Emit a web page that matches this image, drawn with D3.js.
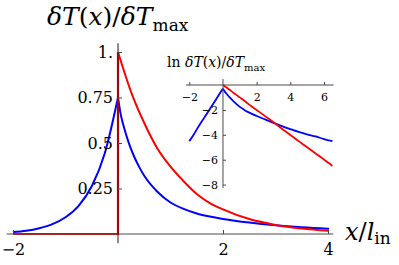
<!DOCTYPE html>
<html>
<head>
<meta charset="utf-8">
<script src="https://cdn.jsdelivr.net/npm/d3@7"></script>
<style>
  html, body { margin: 0; padding: 0; background: #fff; }
  svg { display: block; }
</style>
</head>
<body>
<svg id="chart" width="399" height="265"></svg>
<script>
// ---- data ----
const mainXTicks = [-2, 2, 4];
const mainYTicks = [0.25, 0.5, 0.75, 1];
const mainYTickLabels = ["0.25", "0.5", "0.75", "1."];
const insetXTicks = [-2, 2, 4, 6];
const insetYTicks = [-2, -4, -6, -8];

// blue curve (left of the cusp and right of it)
const blueLeftX = [-2, -1.75, -1.5, -1.25, -1, -0.75, -0.5, -0.25, 0];
const blueLeftY = [0.011, 0.018, 0.032, 0.054, 0.092, 0.155, 0.262, 0.445, 0.75];
const blueRightX = [0, 0.05, 0.1, 0.2, 0.3, 0.4, 0.5, 0.75, 1, 1.25, 1.5, 1.75, 2, 2.5, 3, 3.5, 4, 4.5, 5, 5.5, 6, 6.5];
const blueRightY = [0.75, 0.66, 0.6, 0.505, 0.43, 0.37, 0.32, 0.232, 0.173, 0.138, 0.113, 0.096, 0.083, 0.063, 0.048, 0.037, 0.029, 0.023, 0.019, 0.016, 0.013, 0.011];

// red curve: zero for x<0, jump to 1 at x=0, then decays
const redLeftX = [-2, 0, 0];
const redLeftY = [0, 0, 1];
const redRightX = [0, 0.25, 0.5, 0.75, 1, 1.25, 1.5, 1.75, 2, 2.5, 3, 3.5, 4, 4.5, 5, 5.5, 6, 6.5];
const redRightY = [1, 0.78, 0.61, 0.47, 0.37, 0.29, 0.22, 0.17, 0.135, 0.082, 0.05, 0.03, 0.018, 0.011, 0.0067, 0.0041, 0.0025, 0.0015];

const BLUE = "#0000ff", RED = "#ff0000", AXIS = "#4a4a4a";
const SERIF = "DejaVu Serif";

const svg = d3.select("#chart");
const zip = (xs, ys) => xs.map((x, i) => ({x, y: ys[i]}));

// ---------------- main plot ----------------
const x = d3.scaleLinear().domain([-2, 4]).range([13, 328]);
const y = d3.scaleLinear().domain([0, 1]).range([234, 52]);

const main = svg.append("g");
main.append("clipPath").attr("id", "mainclip").append("rect")
  .attr("x", x(-2.12)).attr("y", y(1.05)).attr("width", x(4.02) - x(-2.12)).attr("height", y(-0.05) - y(1.05));

const lineMain = d3.line().x(d => x(d.x)).y(d => y(d.y));
const curves = main.append("g").attr("clip-path", "url(#mainclip)");
curves.append("path").datum(zip(blueLeftX, blueLeftY))
  .attr("d", lineMain.curve(d3.curveMonotoneX)).attr("fill", "none").attr("stroke", BLUE).attr("stroke-width", 2);
curves.append("path").datum(zip(blueRightX, blueRightY))
  .attr("d", lineMain.curve(d3.curveMonotoneX)).attr("fill", "none").attr("stroke", BLUE).attr("stroke-width", 2);
curves.append("path").datum(zip(redLeftX, redLeftY))
  .attr("d", lineMain.curve(d3.curveLinear)).attr("fill", "none").attr("stroke", RED).attr("stroke-width", 2.2);
curves.append("path").datum(zip(redRightX, redRightY))
  .attr("d", lineMain.curve(d3.curveMonotoneX)).attr("fill", "none").attr("stroke", RED).attr("stroke-width", 2);

// axes
main.append("line").attr("x1", x(-2.12)).attr("x2", x(4.1)).attr("y1", y(0)).attr("y2", y(0))
  .attr("stroke", AXIS).attr("stroke-width", 1);
main.append("line").attr("x1", x(0)).attr("x2", x(0)).attr("y1", y(-0.05)).attr("y2", y(1.048))
  .attr("stroke", "#3a1010").attr("stroke-width", 1);

const xAxis = main.append("g").attr("transform", `translate(0,${y(0)})`)
  .call(d3.axisBottom(x).tickValues(mainXTicks).tickSize(-4).tickPadding(10)
    .tickFormat(d => d < 0 ? "\u2212" + Math.abs(d) : String(d)));
xAxis.attr("font-family", SERIF);
xAxis.select(".domain").remove();
xAxis.selectAll("line").attr("stroke", AXIS);
xAxis.selectAll("text").attr("font-size", 16);

const yAxis = main.append("g").attr("transform", `translate(${x(0)},0)`)
  .call(d3.axisLeft(y).tickValues(mainYTicks).tickSize(-4).tickPadding(5)
    .tickFormat((d, i) => mainYTickLabels[i]));
yAxis.attr("font-family", SERIF);
yAxis.select(".domain").remove();
yAxis.selectAll("line").attr("stroke", AXIS);
yAxis.selectAll("text").attr("font-size", 16);

// main title
const title = svg.append("text").attr("x", 47).attr("y", 25).attr("font-size", 25).attr("font-family", SERIF);
title.append("tspan").attr("font-style", "italic").text("\u03b4T");
title.append("tspan").text("(");
title.append("tspan").attr("font-style", "italic").text("x");
title.append("tspan").text(")/");
title.append("tspan").attr("font-style", "italic").text("\u03b4T");
title.append("tspan").attr("font-size", 17).attr("dy", 6).text("max");

// x label
const xl = svg.append("text").attr("x", 345).attr("y", 240).attr("font-size", 24).attr("font-family", SERIF);
xl.append("tspan").attr("font-style", "italic").text("x");
xl.append("tspan").text("/");
xl.append("tspan").attr("font-style", "italic").text("l");
xl.append("tspan").attr("font-size", 17).attr("dy", 4).text("in");

// ---------------- inset ----------------
const xi = d3.scaleLinear().domain([-2, 6]).range([189.3, 324]);
const yi = d3.scaleLinear().domain([0, -8]).range([85, 184.6]);
const inset = svg.append("g");
inset.append("clipPath").attr("id", "insetclip").append("rect")
  .attr("x", xi(-2.25)).attr("y", yi(0.5)).attr("width", xi(6.56) - xi(-2.25)).attr("height", yi(-8.3) - yi(0.5));

const lineIn = d3.line().x(d => xi(d.x)).y(d => yi(Math.log(d.y)));
const ic = inset.append("g").attr("clip-path", "url(#insetclip)");
ic.append("path").datum(zip(blueLeftX, blueLeftY))
  .attr("d", lineIn.curve(d3.curveMonotoneX)).attr("fill", "none").attr("stroke", BLUE).attr("stroke-width", 1.8);
ic.append("path").datum(zip(blueRightX, blueRightY))
  .attr("d", lineIn.curve(d3.curveMonotoneX)).attr("fill", "none").attr("stroke", BLUE).attr("stroke-width", 1.8);
ic.append("path").datum(zip(redRightX, redRightY))
  .attr("d", lineIn.curve(d3.curveMonotoneX)).attr("fill", "none").attr("stroke", RED).attr("stroke-width", 1.8);

inset.append("line").attr("x1", xi(-2.2)).attr("x2", xi(6.57)).attr("y1", yi(0)).attr("y2", yi(0))
  .attr("stroke", AXIS).attr("stroke-width", 1);
inset.append("line").attr("x1", xi(0)).attr("x2", xi(0)).attr("y1", yi(0.48)).attr("y2", yi(-8.27))
  .attr("stroke", AXIS).attr("stroke-width", 1);

const xiAxis = inset.append("g").attr("transform", `translate(0,${yi(0)})`)
  .call(d3.axisBottom(xi).tickValues(insetXTicks).tickSize(-3).tickPadding(8)
    .tickFormat(d => d < 0 ? "\u2212" + Math.abs(d) : String(d)));
xiAxis.attr("font-family", SERIF);
xiAxis.select(".domain").remove();
xiAxis.selectAll("line").attr("stroke", AXIS);
xiAxis.selectAll("text").attr("font-size", 11);

const yiAxis = inset.append("g").attr("transform", `translate(${xi(0)},0)`)
  .call(d3.axisLeft(yi).tickValues(insetYTicks).tickSize(-3).tickPadding(5)
    .tickFormat(d => "\u2212" + Math.abs(d)));
yiAxis.attr("font-family", SERIF);
yiAxis.select(".domain").remove();
yiAxis.selectAll("line").attr("stroke", AXIS);
yiAxis.selectAll("text").attr("font-size", 11);

const it = svg.append("text").attr("x", 167).attr("y", 67).attr("font-size", 14).attr("font-family", SERIF);
it.append("tspan").text("ln ");
it.append("tspan").attr("font-style", "italic").text("\u03b4T");
it.append("tspan").text("(");
it.append("tspan").attr("font-style", "italic").text("x");
it.append("tspan").text(")/");
it.append("tspan").attr("font-style", "italic").text("\u03b4T");
it.append("tspan").attr("font-size", 10).attr("dy", 3.5).text("max");
</script>
</body>
</html>
